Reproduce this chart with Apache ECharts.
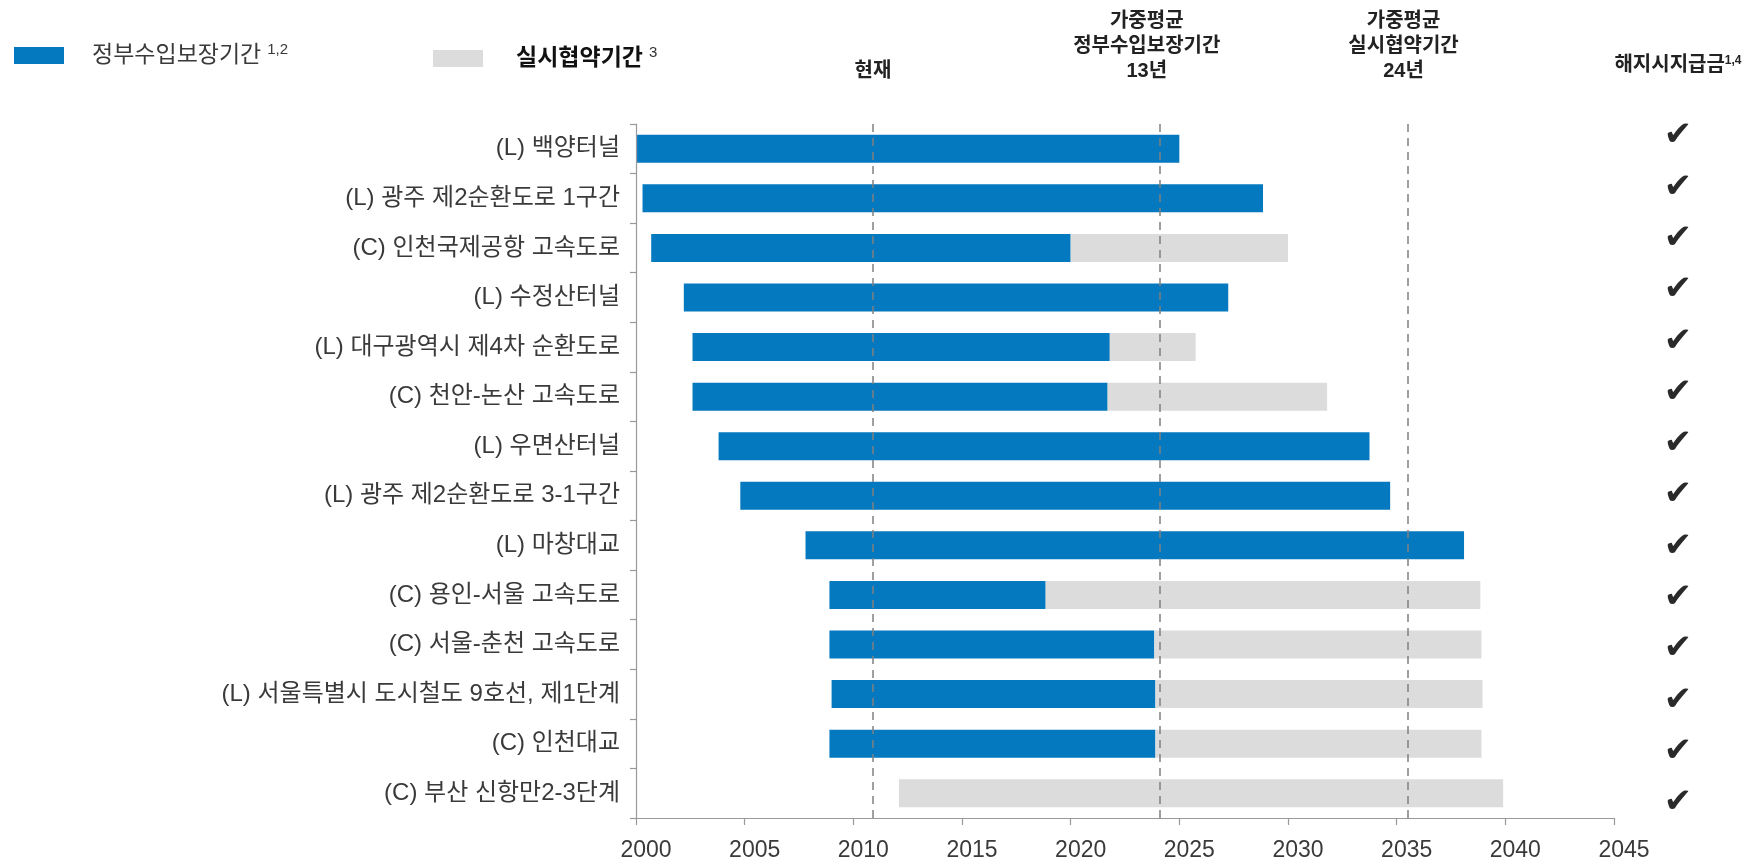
<!DOCTYPE html>
<html><head><meta charset="utf-8">
<script src="https://cdn.jsdelivr.net/npm/echarts@6/dist/echarts.min.js"></script>
<style>html,body{margin:0;padding:0;background:#fff}#c{width:1759px;height:862px}</style>
</head><body><div id="c"></div>
<script>
const categories = [
  '(L) 백양터널',
  '(L) 광주 제2순환도로 1구간',
  '(C) 인천국제공항 고속도로',
  '(L) 수정산터널',
  '(L) 대구광역시 제4차 순환도로',
  '(C) 천안-논산 고속도로',
  '(L) 우면산터널',
  '(L) 광주 제2순환도로 3-1구간',
  '(L) 마창대교',
  '(C) 용인-서울 고속도로',
  '(C) 서울-춘천 고속도로',
  '(L) 서울특별시 도시철도 9호선, 제1단계',
  '(C) 인천대교',
  '(C) 부산 신항만2-3단계'
];
const startYear     = [2000.05, 2000.3, 2000.7, 2002.2, 2002.6, 2002.6, 2003.8, 2004.8, 2007.8, 2008.9, 2008.9, 2009.0, 2008.9, 2012.1];
const guaranteeEnd  = [2025.0, 2028.85, 2020.0, 2027.25, 2021.8, 2021.7, 2033.75, 2034.7, 2038.1, 2018.85, 2023.85, 2023.9, 2023.9, null];
const contractEnd   = [null, null, 2030.0, null, 2025.75, 2031.8, null, null, null, 2038.85, 2038.9, 2038.95, 2038.9, 2039.9];
const checks        = [true, true, true, true, true, true, true, true, true, true, true, true, true, true];
const xTickMin = 2000, xTickMax = 2045, xTickStep = 5;
const refYears  = [2010.9, 2024.1, 2035.5];
const refLabels = ['현재', '가중평균\n정부수입보장기간\n13년', '가중평균\n실시협약기간\n24년'];
const legendNames = ['정부수입보장기간', '실시협약기간'];
const legendSups  = ['1,2', '3'];
const rightTitle = '해지시지급금';
const rightTitleSup = '1,4';

const BLUE = '#0479BF', GRAY = '#DCDCDC';
const FONT = "'Liberation Sans', 'Noto Sans CJK KR', sans-serif";

const guaranteeDur = startYear.map((s, i) => guaranteeEnd[i] == null ? 0 : +(guaranteeEnd[i] - s).toFixed(3));
const contractDur = startYear.map((s, i) => {
  if (contractEnd[i] == null) return 0;
  const base = guaranteeEnd[i] == null ? s : guaranteeEnd[i];
  return +(contractEnd[i] - base).toFixed(3);
});

const labelPads = [[0,0,0,0],[0,26,0,0],[0,8,0,0]];

const chart = echarts.init(document.getElementById('c'), null, {renderer: 'canvas'});
chart.setOption({
  animation: false,
  textStyle: {fontFamily: FONT},
  grid: [
    {left: 636, right: 145, top: 124, bottom: 44, containLabel: false, outerBoundsMode: 'none'},
    {left: 1678, width: 2, top: 111, bottom: 33, containLabel: false, outerBoundsMode: 'none'}
  ],
  legend: [
    {
      data: [legendNames[0]], left: 9, top: 37, itemWidth: 50, itemHeight: 17,
      icon: 'rect', selectedMode: false,
      formatter: n => '{t|' + n + '}{s|' + legendSups[0] + '}',
      textStyle: {rich: {
        t: {fontSize: 23, color: '#3a3a3a', fontFamily: FONT, padding: [0, 6, 0, 23]},
        s: {fontSize: 15, color: '#3a3a3a', fontFamily: FONT, padding: [0, 0, 12, 0]}
      }}
    },
    {
      data: [legendNames[1]], left: 428, top: 40, itemWidth: 50, itemHeight: 17,
      icon: 'rect', selectedMode: false,
      formatter: n => '{t|' + n + '}{s|' + legendSups[1] + '}',
      textStyle: {rich: {
        t: {fontSize: 23, color: '#111', fontWeight: 'bold', fontFamily: FONT, padding: [0, 6, 0, 28]},
        s: {fontSize: 15, color: '#333', fontFamily: FONT, padding: [0, 0, 12, 0]}
      }}
    }
  ],
  xAxis: [
    {
      type: 'value', gridIndex: 0, min: xTickMin, max: xTickMax, interval: xTickStep,
      axisLine: {show: true, lineStyle: {color: '#999', width: 1.2}},
      axisTick: {show: true, length: 7, lineStyle: {color: '#999', width: 1.2}},
      splitLine: {show: false},
      axisLabel: {fontSize: 23, color: '#3a3a3a', margin: 21, fontFamily: FONT,
                  padding: [0, 0, 0, 20], formatter: v => String(v)}
    },
    {type: 'value', gridIndex: 1, show: false, min: 0, max: 1}
  ],
  yAxis: [
    {
      type: 'category', gridIndex: 0, data: categories, inverse: true,
      axisLine: {show: true, lineStyle: {color: '#999', width: 1.2}},
      axisTick: {show: true, length: 6, lineStyle: {color: '#999', width: 1.2}},
      axisLabel: {fontSize: 24, color: '#3a3a3a', margin: 16, fontFamily: FONT}
    },
    {
      type: 'category', gridIndex: 1, data: categories, inverse: true, position: 'left',
      axisLine: {show: false}, axisTick: {show: false},
      axisLabel: {
        margin: 0, align: 'center', fontSize: 34, color: '#2a2a2a',
        fontFamily: "'DejaVu Sans', sans-serif",
        formatter: (v, i) => checks[i] ? '✔' : ''
      },
      name: '{t|' + rightTitle + '}{s|' + rightTitleSup + '}',
      nameLocation: 'start', nameGap: 36,
      nameTextStyle: {align: 'center', rich: {
        t: {fontSize: 20, fontWeight: 'bold', color: '#222', fontFamily: FONT},
        s: {fontSize: 12, fontWeight: 'bold', color: '#222', fontFamily: FONT, padding: [0, 0, 8, 0]}
      }}
    }
  ],
  series: [
    {
      name: 'base', type: 'bar', stack: 'a', data: startYear, silent: true,
      itemStyle: {color: 'rgba(0,0,0,0)'}, barWidth: 28
    },
    {
      name: legendNames[0], type: 'bar', stack: 'a', data: guaranteeDur, barWidth: 28,
      itemStyle: {color: BLUE},
      markLine: {
        silent: true, symbol: 'none', animation: false,
        lineStyle: {color: '#808080', type: [8, 6], width: 1.5},
        label: {
          show: true, position: 'start', distance: 40,
          fontSize: 20, fontWeight: 'bold', color: '#222', lineHeight: 25, align: 'center',
          fontFamily: FONT
        },
        data: refYears.map((y, i) => ({
          xAxis: y,
          label: {formatter: refLabels[i], padding: labelPads[i]}
        }))
      }
    },
    {
      name: legendNames[1], type: 'bar', stack: 'a', data: contractDur, barWidth: 28,
      itemStyle: {color: GRAY}
    },
    {
      name: 'checks', type: 'scatter', xAxisIndex: 1, yAxisIndex: 1, data: [], silent: true
    }
  ]
});
</script>
</body></html>
